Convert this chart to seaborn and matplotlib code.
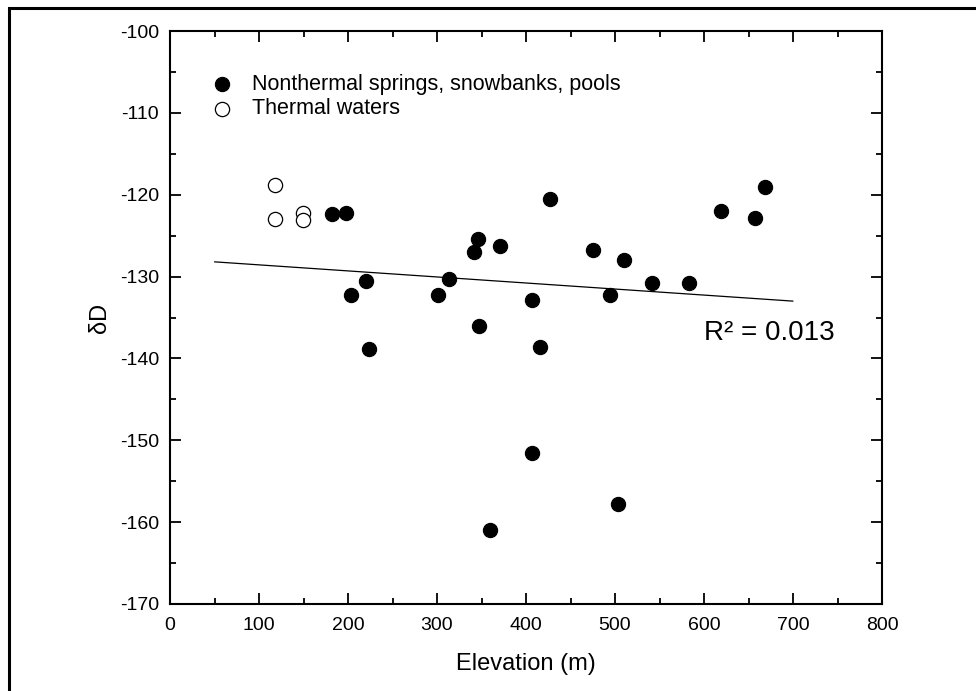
import numpy as np
import pandas as pd
import matplotlib
matplotlib.use("Agg")
import matplotlib.pyplot as plt
from matplotlib.patches import Rectangle
from matplotlib.ticker import MultipleLocator
import seaborn as sns

# nonthermal springs, snowbanks, pools (filled)
elev_cold = [182, 198, 203, 220, 224, 301, 313, 342, 346, 347, 360, 371, 407,
             407, 416, 427, 475, 494, 503, 510, 542, 583, 619, 657, 668]
dD_cold = [-122.4, -122.2, -132.3, -130.6, -138.9, -132.3, -130.3, -127.0,
           -125.4, -136.0, -161.0, -126.3, -132.9, -151.6, -138.6, -120.5,
           -126.7, -132.3, -157.8, -128.0, -130.8, -130.8, -122.0, -122.8, -119.0]

# thermal waters (open)
elev_hot = [118, 118, 149, 149]
dD_hot = [-118.8, -123.0, -122.2, -123.1]

# linear trend endpoints
trend_x = [50, 700]
trend_y = [-128.2, -133.0]
r2_text = "R² = 0.013"

sns.set_style("ticks")
plt.rcParams['font.family'] = ['Liberation Sans', 'DejaVu Sans']
plt.rcParams['axes.unicode_minus'] = False
plt.rcParams['text.color'] = 'black'
plt.rcParams['axes.labelcolor'] = 'black'
plt.rcParams['xtick.color'] = 'black'
plt.rcParams['ytick.color'] = 'black'

fig = plt.figure(figsize=(9.76, 6.91), dpi=100)
ax = fig.add_axes([170 / 976, 1 - 604 / 691, 712 / 976, 573 / 691])

df_cold = pd.DataFrame({"x": elev_cold, "y": dD_cold})
df_hot = pd.DataFrame({"x": elev_hot, "y": dD_hot})

sns.scatterplot(data=df_cold, x="x", y="y", ax=ax, color="black", s=105,
                edgecolor="black", linewidth=0.8,
                label="Nonthermal springs, snowbanks, pools", zorder=3)
sns.scatterplot(data=df_hot, x="x", y="y", ax=ax, facecolor="white", s=105,
                edgecolor="black", linewidth=0.9,
                label="Thermal waters", zorder=3)
sns.lineplot(x=trend_x, y=trend_y, ax=ax, color="black", linewidth=0.9, zorder=2)

ax.set_xlim(0, 800)
ax.set_ylim(-170, -100)
ax.xaxis.set_major_locator(MultipleLocator(100))
ax.xaxis.set_minor_locator(MultipleLocator(50))
ax.yaxis.set_major_locator(MultipleLocator(10))
ax.yaxis.set_minor_locator(MultipleLocator(5))
ax.tick_params(which="both", direction="in", top=True, right=True,
               width=1.3, colors="black", labelsize=14)
ax.tick_params(which="major", length=8)
ax.tick_params(which="minor", length=4)
ax.tick_params(axis="y", which="major", pad=8)
ax.tick_params(axis="x", which="major", pad=9)
for sp in ax.spines.values():
    sp.set_linewidth(1.5)
    sp.set_color("black")
    sp.set_visible(True)

ax.set_xlabel("Elevation (m)", fontsize=17, labelpad=14)
ax.set_ylabel("δD", fontsize=17, labelpad=6)

ax.text(0.75, 0.473, r2_text, transform=ax.transAxes, fontsize=20,
        ha="left", va="center")

leg = ax.legend(loc="upper left", frameon=False, fontsize=15.5,
                bbox_to_anchor=(0.0576, 0.925), borderpad=0, borderaxespad=0,
                handlelength=1.0, handletextpad=0.9,
                labelspacing=0.15, markerscale=1.0)
for t in leg.get_texts():
    t.set_color("black")

fig.patches.append(Rectangle((9 / 976, -0.2), 1.5, 1.2 - 7.5 / 691,
                             transform=fig.transFigure, fill=False,
                             edgecolor="black", linewidth=2.2, clip_on=False))

fig.savefig("out.png", dpi=100)
